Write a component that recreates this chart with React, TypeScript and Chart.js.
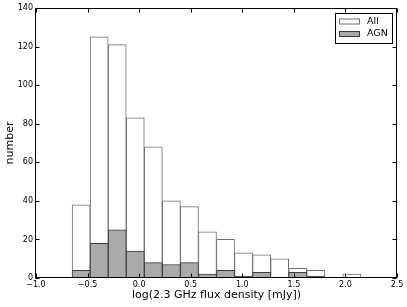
import { useEffect, useRef } from "react";
import { Chart, registerables } from "chart.js";

Chart.register(...registerables);

// Histogram bin centres (log flux density), bin width 0.175
const binCenters = [
  -0.5625, -0.3875, -0.2125, -0.0375, 0.1375, 0.3125, 0.4875, 0.6625,
  0.8375, 1.0125, 1.1875, 1.3625, 1.5375, 1.7125, 1.8875, 2.0625,
];
const allCounts = [38, 125, 121, 83, 68, 40, 37, 24, 20, 13, 12, 10, 5, 4, 0, 2];
const agnCounts = [4, 18, 25, 14, 8, 7, 8, 2, 4, 1, 3, 0, 3, 1, 0, 0];
const seriesLabels = ["All", "AGN"];
const xTitle = "log(2.3 GHz flux density [mJy])";
const yTitle = "number";
const xRange = [-1.0, 2.5];
const yRange = [0, 140];

const FONT = "'DejaVu Sans', sans-serif";
const ALL_FILL = "#ffffff";
const ALL_EDGE = "#707070";
const AGN_FILL = "#aaaaaa";
const AGN_EDGE = "#3c3c3c";

const framePlugin = {
  id: "mplFrame",
  afterDraw(chart: any) {
    const { ctx, chartArea: a, scales } = chart;
    ctx.save();
    ctx.strokeStyle = "#000";
    ctx.lineWidth = 1;
    const L = Math.round(a.left) - 0.5;
    const R = Math.round(a.right) - 0.5;
    const T = Math.round(a.top) + 0.5;
    const B = Math.round(a.bottom) - 0.5;
    ctx.strokeRect(L, T, R - L, B - T);
    const len = 4;
    ctx.beginPath();
    for (const t of scales.x.ticks) {
      const px = Math.round(scales.x.getPixelForValue(t.value)) + 0.5;
      ctx.moveTo(px, B);
      ctx.lineTo(px, B - len);
      ctx.moveTo(px, T);
      ctx.lineTo(px, T + len);
    }
    for (const t of scales.y.ticks) {
      const py = Math.round(scales.y.getPixelForValue(t.value)) + 0.5;
      ctx.moveTo(L, py);
      ctx.lineTo(L + len, py);
      ctx.moveTo(R, py);
      ctx.lineTo(R - len, py);
    }
    ctx.stroke();

    // legend box
    const bw = 57;
    const bh = 30;
    const bx = Math.round(a.right - 62) + 0.5;
    const by = Math.round(a.top + 5) + 0.5;
    ctx.fillStyle = "#fff";
    ctx.fillRect(bx, by, bw, bh);
    ctx.strokeStyle = "#000";
    ctx.strokeRect(bx, by, bw, bh);
    const items = [
      { label: chart.data.datasets[0].label, fill: ALL_FILL, edge: ALL_EDGE },
      { label: chart.data.datasets[1].label, fill: AGN_FILL, edge: AGN_EDGE },
    ];
    items.forEach((it, i) => {
      const cy = by + 8 + i * 12.5;
      ctx.fillStyle = it.fill;
      ctx.fillRect(bx + 4, cy - 2.5, 20, 5);
      ctx.strokeStyle = it.edge;
      ctx.strokeRect(bx + 4, cy - 2.5, 20, 5);
      ctx.fillStyle = "#000";
      ctx.font = `9.5px ${FONT}`;
      ctx.textBaseline = "middle";
      ctx.textAlign = "left";
      ctx.fillText(it.label, bx + 31.5, cy);
    });
    ctx.restore();
  },
};

export default function App() {
  const ref = useRef<HTMLCanvasElement | null>(null);

  useEffect(() => {
    document.body.style.margin = "0";
    const canvas = ref.current;
    if (!canvas) return;
    const chart = new Chart(canvas, {
      type: "bar",
      data: {
        datasets: [
          {
            label: seriesLabels[0],
            data: binCenters.map((x, i) => ({ x, y: allCounts[i] })),
            backgroundColor: ALL_FILL,
            borderColor: ALL_EDGE,
            borderWidth: 1,
            order: 1,
          },
          {
            label: seriesLabels[1],
            data: binCenters.map((x, i) => ({ x, y: agnCounts[i] })),
            backgroundColor: AGN_FILL,
            borderColor: AGN_EDGE,
            borderWidth: 1,
            order: 0,
          },
        ],
      },
      options: {
        animation: false,
        responsive: false,
        devicePixelRatio: 1,
        grouped: false,
        categoryPercentage: 1,
        barPercentage: 1,
        layout: { padding: { top: 8, right: 10, left: 0, bottom: 0 } },
        plugins: { legend: { display: false }, tooltip: { enabled: false } },
        scales: {
          x: {
            type: "linear",
            min: xRange[0],
            max: xRange[1],
            offset: false,
            grid: { display: false, drawTicks: false },
            border: { display: false },
            ticks: {
              stepSize: 0.5,
              autoSkip: false,
              maxRotation: 0,
              padding: 2,
              color: "#000",
              font: { family: FONT, size: 8 },
              callback: (v: any) => (v < 0 ? "\u2212" : "") + Math.abs(Number(v)).toFixed(1),
            },
            title: {
              display: true,
              text: xTitle,
              color: "#000",
              font: { family: FONT, size: 11 },
              padding: { top: 0, bottom: 5 },
            },
            afterFit: (s: any) => {
              s.height = 29;
            },
          },
          y: {
            min: yRange[0],
            max: yRange[1],
            grid: { display: false, drawTicks: false },
            border: { display: false },
            ticks: {
              stepSize: 20,
              padding: 3,
              color: "#000",
              font: { family: FONT, size: 8 },
            },
            title: {
              display: true,
              text: yTitle,
              color: "#000",
              font: { family: FONT, size: 11 },
              padding: { top: 4, bottom: 0 },
            },
            afterFit: (s: any) => {
              s.width = 36;
            },
          },
        },
      } as any,
      plugins: [framePlugin],
    });
    return () => chart.destroy();
  }, []);

  return (
    <div style={{ width: 407, height: 307 }}>
      <canvas ref={ref} width={407} height={307} />
    </div>
  );
}
